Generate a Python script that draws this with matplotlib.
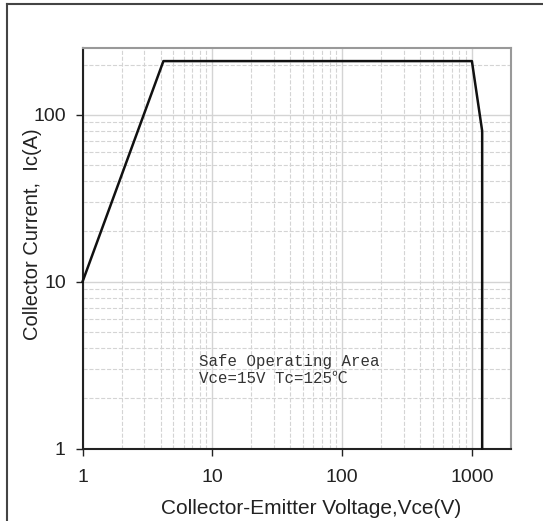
import matplotlib
matplotlib.use("Agg")
import matplotlib.pyplot as plt
from matplotlib.lines import Line2D
from matplotlib.ticker import LogLocator, NullFormatter, FixedLocator

# SOA boundary points (Vce in V, Ic in A)
vce = [1, 4.2, 1000, 1200, 1200]
ic = [10, 210, 210, 80, 1]

x_ticks = [1, 10, 100, 1000]
x_labels = ["1", "10", "100", "1000"]
y_ticks = [1, 10, 100]
y_labels = ["1", "10", "100"]

plt.rcParams['font.family'] = ['Liberation Sans', 'DejaVu Sans']

fig = plt.figure(figsize=(5.43, 5.21), dpi=100)
ax = fig.add_axes([0.152, 0.139, 0.789, 0.768])

ax.set_xscale('log')
ax.set_yscale('log')
ax.set_xlim(1, 2000)
ax.set_ylim(1, 250)

ax.xaxis.set_major_locator(FixedLocator(x_ticks))
ax.set_xticklabels(x_labels)
ax.yaxis.set_major_locator(FixedLocator(y_ticks))
ax.set_yticklabels(y_labels)
ax.xaxis.set_minor_locator(LogLocator(base=10, subs=range(2, 10)))
ax.yaxis.set_minor_locator(LogLocator(base=10, subs=range(2, 10)))
ax.xaxis.set_minor_formatter(NullFormatter())
ax.yaxis.set_minor_formatter(NullFormatter())

ax.grid(which='major', color='#d4d4d4', linestyle='-', linewidth=1.0)
ax.grid(which='minor', color='#d4d4d4', linestyle='--', linewidth=0.8)
ax.set_axisbelow(True)

ax.tick_params(which='major', direction='out', length=5, width=1.0,
               labelsize=14, colors='#222222', pad=7)
ax.tick_params(axis='x', which='major', pad=10)
ax.tick_params(which='minor', length=0)

for side in ['left', 'bottom']:
    ax.spines[side].set_color('#222222')
    ax.spines[side].set_linewidth(1.5)
for side in ['top', 'right']:
    ax.spines[side].set_color('#999999')
    ax.spines[side].set_linewidth(1.5)

ax.plot(vce, ic, color='#111111', linewidth=1.8, clip_on=False, zorder=3)

ax.set_xlabel("Collector-Emitter Voltage,Vce(V)", fontsize=15, color='#222222')
ax.set_ylabel("Collector Current,  Ic(A)", fontsize=14.5, color='#222222')
ax.xaxis.set_label_coords(0.534, -0.125)
ax.yaxis.set_label_coords(-0.095, 0.535)

ax.text(0.272, 0.236, "Safe Operating Area\nVce=15V Tc=125\u2103",
        transform=ax.transAxes, fontsize=11.3, va='top', ha='left',
        family=['Liberation Mono', 'Noto Sans CJK SC'], color='#333333',
        linespacing=1.15)

# frame lines around the figure
fig.add_artist(Line2D([0.013, 0.013], [0.0, 0.992], transform=fig.transFigure,
                      color='#444444', linewidth=1.5))
fig.add_artist(Line2D([0.013, 1.0], [0.992, 0.992], transform=fig.transFigure,
                      color='#444444', linewidth=1.5))

fig.savefig("out.png", dpi=100)
